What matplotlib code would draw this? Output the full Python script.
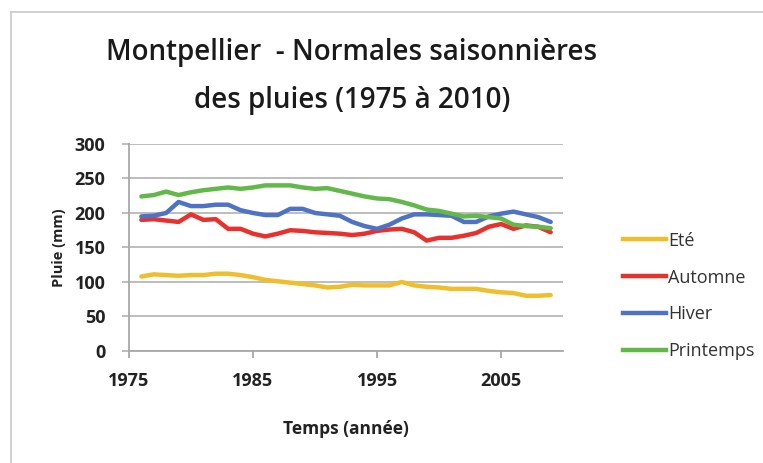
import numpy as np
import matplotlib.pyplot as plt
from matplotlib.lines import Line2D

years = list(range(1976, 2010))
ete = [108, 111, 110, 109, 110, 110, 112, 112, 110, 107, 103, 101, 99, 97, 95, 92, 93,
       96, 95, 95, 95, 100, 95, 93, 92, 90, 90, 90, 87, 85, 84, 80, 80, 81]
automne = [190, 191, 189, 187, 198, 190, 191, 177, 177, 170, 166, 170, 175, 174, 172, 171, 170,
           168, 170, 174, 176, 177, 172, 160, 164, 164, 167, 171, 180, 184, 177, 182, 180, 172]
hiver = [195, 196, 200, 216, 210, 210, 212, 212, 204, 200, 197, 197, 206, 206, 200, 198, 196,
         187, 181, 177, 183, 192, 198, 198, 197, 196, 187, 187, 195, 199, 202, 198, 194, 187]
printemps = [224, 226, 231, 226, 230, 233, 235, 237, 235, 237, 240, 240, 240, 237, 235, 236, 232,
             228, 224, 221, 220, 216, 211, 205, 203, 199, 195, 196, 194, 192, 183, 181, 180, 178]

labels = ["Eté", "Automne", "Hiver", "Printemps"]
colors = ["#F0BE2C", "#E8312C", "#4E72C4", "#62B94A"]
xticks = [1975, 1985, 1995, 2005]

plt.rcParams['font.family'] = ['Open Sans', 'DejaVu Sans']

fig = plt.figure(figsize=(7.63, 4.63), dpi=100)
ax = fig.add_axes([0.169, 0.242, 0.569, 0.447])

for vals, lab, col in zip([ete, automne, hiver, printemps], labels, colors):
  ax.plot(years, vals, color=col, lw=3.2, label=lab, solid_capstyle='round')

ax.set_xlim(1975, 2010)
ax.set_ylim(0, 300)
ax.set_yticks(np.arange(0, 301, 50))
ax.set_xticks(xticks)
ax.yaxis.grid(True, color="#B8B8B8", lw=1.3)
ax.set_axisbelow(True)
for s in ["top", "right"]:
  ax.spines[s].set_visible(False)
ax.spines["left"].set_color("#A8A8A8")
ax.spines["bottom"].set_color("#A8A8A8")
ax.spines["left"].set_linewidth(1.3)
ax.spines["bottom"].set_linewidth(1.3)
ax.tick_params(axis="x", length=5, color="#A8A8A8", width=1.3, direction="out", pad=10)
ax.tick_params(axis="y", length=5, color="#B8B8B8", width=1.3, direction="out", pad=12)
for t in ax.get_xticklabels() + ax.get_yticklabels():
  t.set_fontsize(13)
  t.set_fontweight("bold")
  t.set_color("#222222")

ax.set_xlabel("Temps (année)", fontsize=12.5, fontweight="bold", labelpad=22, color="#222222")
ax.set_ylabel("Pluie (mm)", fontsize=10.5, fontweight="bold", labelpad=6, color="#222222")

fig.text(0.461, 0.886, "Montpellier  - Normales saisonnières", ha="center", va="center",
         fontsize=20, fontweight="semibold", color="#1a1a1a")
fig.text(0.461, 0.784, "des pluies (1975 à 2010)", ha="center", va="center",
         fontsize=20, fontweight="semibold", color="#1a1a1a")

handles = [Line2D([], [], color=c, lw=3.2) for c in colors]
leg = fig.legend(handles, labels, loc="upper left", bbox_to_anchor=(0.795, 0.535), frameon=False,
                 handlelength=2.4, handletextpad=0.1, labelspacing=1.05, fontsize=13)
for t in leg.get_texts():
  t.set_color("#333333")

fig.add_artist(Line2D([11 / 763, 11 / 763], [0, 1 - 12 / 463], color="#C8C8C8", lw=1.2))
fig.add_artist(Line2D([11 / 763, 1], [1 - 12 / 463, 1 - 12 / 463], color="#C8C8C8", lw=1.2))

plt.savefig("out.png", dpi=100)
